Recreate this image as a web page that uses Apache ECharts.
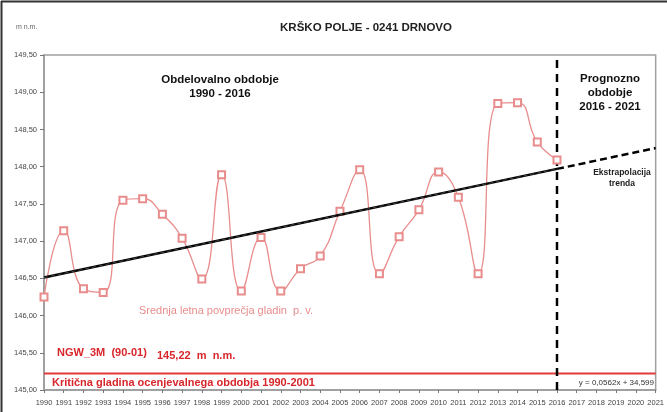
<!DOCTYPE html>
<html>
<head>
<meta charset="utf-8">
<script src="https://cdn.jsdelivr.net/npm/echarts@6/dist/echarts.min.js"></script>
<style>html,body{margin:0;padding:0;background:#fff;}#c{width:667px;height:412px;}</style>
</head>
<body>
<div id="c"></div>
<script>
// ---- data ----
const years = [1990,1991,1992,1993,1994,1995,1996,1997,1998,1999,2000,2001,2002,2003,2004,2005,2006,2007,2008,2009,2010,2011,2012,2013,2014,2015,2016];
const levels = [146.25,147.14,146.36,146.31,147.55,147.57,147.36,147.04,146.49,147.89,146.33,147.05,146.33,146.63,146.80,147.40,147.96,146.56,147.06,147.42,147.93,147.59,146.56,148.85,148.86,148.33,148.09];
const trendYears = [1990, 2016];
const trendValues = [146.51, 147.97];
const extrapYears = [2016, 2021];
const extrapValues = [147.97, 148.25];
const criticalLevel = 145.22;
const forecastStartYear = 2016;
const xMin = 1990, xMax = 2021;
const yMin = 145, yMax = 149.5, yStep = 0.5;

const font = 'Liberation Sans, Arial, sans-serif';
const chart = echarts.init(document.getElementById('c'), null, {renderer: 'canvas'});

const zip = (a, b) => a.map((v, i) => [v, b[i]]);

const option = {
  backgroundColor: '#fff',
  animation: false,
  grid: {left: 44, right: 9, top: 55, bottom: 22, show: true, borderColor: '#a0a0a0', borderWidth: 1.5, backgroundColor: 'transparent'},
  xAxis: {
    type: 'value', min: xMin, max: xMax, interval: 1,
    axisLine: {show: true, lineStyle: {color: '#999', width: 1.5}},
    axisTick: {show: true, length: 3, lineStyle: {color: '#777'}},
    axisLabel: {formatter: v => String(v), fontSize: 7.5, color: '#444', fontFamily: font, margin: 9},
    splitLine: {show: false}
  },
  yAxis: {
    type: 'value', min: yMin, max: yMax, interval: yStep,
    axisLine: {show: true, lineStyle: {color: '#999', width: 1.5}},
    axisTick: {show: true, length: 4, lineStyle: {color: '#777'}},
    axisLabel: {formatter: v => v.toFixed(2).replace('.', ','), fontSize: 7.5, color: '#444', fontFamily: font, margin: 7},
    splitLine: {show: false}
  },
  series: [
    {
      type: 'line', data: [[xMin, criticalLevel], [xMax, criticalLevel]],
      symbol: 'none', lineStyle: {color: '#e03a3a', width: 2}, z: 2
    },
    {
      type: 'line', data: [[forecastStartYear, yMin], [forecastStartYear, yMax]],
      symbol: 'none', lineStyle: {color: '#000', width: 2.5, type: [8, 6]}, z: 3
    },
    {
      type: 'line', data: zip(years, levels), smooth: 0.5,
      symbol: 'emptyRect', symbolSize: 7,
      itemStyle: {color: '#e88c8c', borderWidth: 0.8},
      lineStyle: {color: '#e88c8c', width: 1.3}, z: 4
    },
    {
      type: 'line', data: zip(trendYears, trendValues),
      symbol: 'none', lineStyle: {color: '#000', width: 2.5}, z: 5
    },
    {
      type: 'line', data: zip(trendYears, trendValues),
      symbol: 'none', lineStyle: {color: '#555', width: 0.8, type: [4, 3]}, z: 6
    },
    {
      type: 'line', data: zip(extrapYears, extrapValues),
      symbol: 'none', lineStyle: {color: '#000', width: 2.5, type: [7, 4]}, z: 5
    }
  ],
  graphic: [
    {type: 'line', shape: {x1: 1, y1: 1.5, x2: 667, y2: 1.5}, style: {stroke: '#333', lineWidth: 2}},
    {type: 'line', shape: {x1: 1.5, y1: 1, x2: 1.5, y2: 412}, style: {stroke: '#333', lineWidth: 2}},
    {type: 'text', left: 16, top: 24, style: {text: 'm n.m.', font: '7px ' + font, fill: '#666'}},
    {type: 'text', x: 366, y: 28, style: {text: 'KRŠKO POLJE - 0241 DRNOVO', font: 'bold 11.5px ' + font, fill: '#222', textAlign: 'center', textVerticalAlign: 'middle'}},
    {type: 'text', x: 220, y: 87, style: {text: 'Obdelovalno obdobje\n1990 - 2016', font: 'bold 11.5px ' + font, fill: '#111', textAlign: 'center', textVerticalAlign: 'middle', lineHeight: 14}},
    {type: 'text', x: 610, y: 93, style: {text: 'Prognozno\nobdobje\n2016 - 2021', font: 'bold 11.5px ' + font, fill: '#111', textAlign: 'center', textVerticalAlign: 'middle', lineHeight: 14}},
    {type: 'text', x: 622, y: 178, style: {text: 'Ekstrapolacija\ntrenda', font: 'bold 8.5px ' + font, fill: '#222', textAlign: 'center', textVerticalAlign: 'middle', lineHeight: 11}},
    {type: 'text', x: 226, y: 311, style: {text: 'Srednja letna povprečja gladin  p. v.', font: '11px ' + font, fill: '#e88c8c', textAlign: 'center', textVerticalAlign: 'middle'}},
    {type: 'text', x: 57, y: 353, style: {text: 'NGW_3M  (90-01)', font: 'bold 11px ' + font, fill: '#d8262b', textVerticalAlign: 'middle'}},
    {type: 'text', x: 157, y: 356, style: {text: '145,22  m  n.m.', font: 'bold 11px ' + font, fill: '#d8262b', textVerticalAlign: 'middle'}},
    {type: 'text', x: 52, y: 383, style: {text: 'Kritična gladina ocenjevalnega obdobja 1990-2001', font: 'bold 11px ' + font, fill: '#d8262b', textVerticalAlign: 'middle'}},
    {type: 'text', x: 654, y: 383, style: {text: 'y = 0,0562x + 34,599', font: '8px ' + font, fill: '#333', textAlign: 'right', textVerticalAlign: 'middle'}}
  ]
};
chart.setOption(option);
</script>
</body>
</html>
